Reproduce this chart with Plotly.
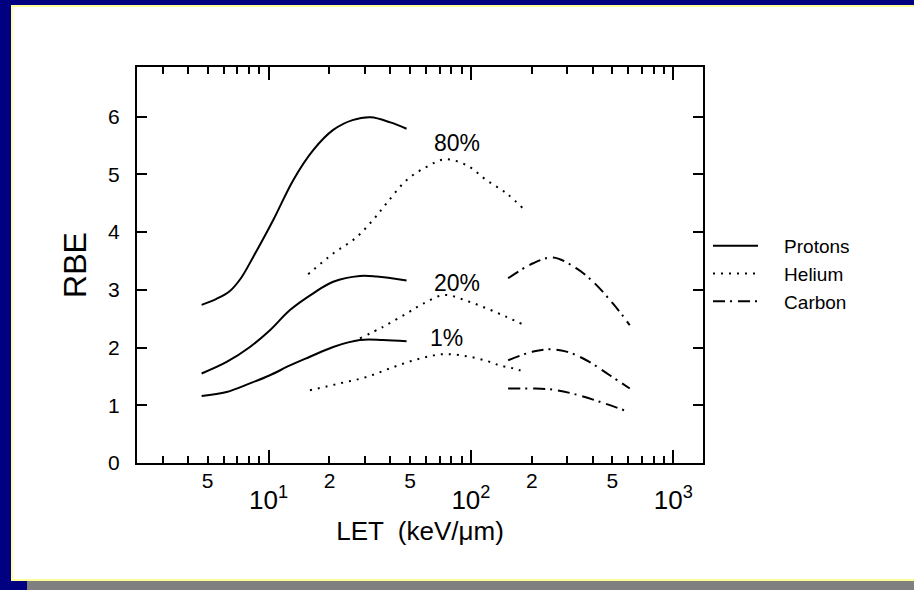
import math
import plotly.graph_objects as go

# ---- data: RBE versus LET for three survival levels per ion ----
proton_80_let = [4.67, 5.5, 6.4, 7.3, 8.4, 10.55, 13.24, 16.62, 20.87, 26.0, 32.0, 40.0, 48.08]
proton_80_rbe = [2.74, 2.84, 2.97, 3.20, 3.57, 4.21, 4.90, 5.42, 5.77, 5.94, 5.99, 5.90, 5.79]
proton_20_let = [4.67, 6.21, 8.09, 10.16, 12.76, 16.62, 20.87, 28.28, 34.18, 48.08]
proton_20_rbe = [1.55, 1.75, 2.01, 2.30, 2.65, 2.94, 3.14, 3.24, 3.23, 3.16]
proton_1_let = [4.67, 6.21, 8.09, 10.16, 12.76, 16.01, 20.87, 28.28, 36.85, 48.08]
proton_1_rbe = [1.16, 1.23, 1.38, 1.52, 1.69, 1.84, 2.01, 2.13, 2.13, 2.11]

helium_80_let = [15.70, 20.87, 27.0, 33.0, 38.30, 48.08, 60.37, 74.3, 95.1, 119.4, 149.9, 181.0]
helium_80_rbe = [3.27, 3.63, 3.90, 4.22, 4.50, 4.90, 5.13, 5.26, 5.16, 4.90, 4.67, 4.41]
helium_20_let = [28.28, 36.85, 48.08, 58.0, 74.0, 95.1, 119.4, 149.9, 181.0]
helium_20_rbe = [2.16, 2.36, 2.59, 2.76, 2.91, 2.81, 2.68, 2.53, 2.40]
helium_1_let = [16.01, 22.52, 30.51, 41.29, 55.95, 72.91, 95.1, 119.4, 138.9, 161.6, 184.6]
helium_1_rbe = [1.26, 1.38, 1.49, 1.66, 1.81, 1.885, 1.85, 1.77, 1.69, 1.64, 1.58]

carbon_80_let = [152.7, 202.9, 254.6, 332.3, 401.3, 503.7, 609.1]
carbon_80_rbe = [3.20, 3.46, 3.56, 3.37, 3.14, 2.76, 2.39]
carbon_20_let = [152.7, 202.9, 245.2, 296.6, 372.2, 485.2, 609.1]
carbon_20_rbe = [1.78, 1.93, 1.97, 1.93, 1.78, 1.52, 1.29]
carbon_1_let = [152.7, 202.9, 254.6, 319.7, 433.0, 575.4]
carbon_1_rbe = [1.29, 1.29, 1.27, 1.20, 1.06, 0.91]

level_labels = ["80%", "20%", "1%"]
level_label_let = [85.7, 84.9, 75.8]
level_label_rbe = [5.54, 3.11, 2.16]

sub_tick_vals = [5, 20, 50, 200, 500]
sub_tick_text = ["5", "2", "5", "2", "5"]
decade_tick_vals = [10, 100, 1000]
decade_tick_text = ["10<sup>1</sup>", "10<sup>2</sup>", "10<sup>3</sup>"]
rbe_ticks = [0, 1, 2, 3, 4, 5, 6]

# ---- page geometry (pixels) ----
W, H = 914, 590
L, R, T, B = 137, 703, 67, 463
FONT = "Liberation Sans, Arial, sans-serif"
NAVY = "#000080"
PAD = "\u00a0" * 4   # gap between legend sample and legend text


def px(x):
    return (x - L) / (R - L)


def py(y):
    return (B - y) / (B - T)


styles = {
    "Protons": dict(color="black", width=2, dash="solid"),
    "Helium": dict(color="black", width=2, dash="2px,6px"),
    "Carbon": dict(color="black", width=2, dash="12px,5px,2px,6px"),
}

series = [
    ("Protons", proton_80_let, proton_80_rbe, True),
    ("Protons", proton_20_let, proton_20_rbe, False),
    ("Protons", proton_1_let, proton_1_rbe, False),
    ("Helium", helium_80_let, helium_80_rbe, True),
    ("Helium", helium_20_let, helium_20_rbe, False),
    ("Helium", helium_1_let, helium_1_rbe, False),
    ("Carbon", carbon_80_let, carbon_80_rbe, True),
    ("Carbon", carbon_20_let, carbon_20_rbe, False),
    ("Carbon", carbon_1_let, carbon_1_rbe, False),
]

fig = go.Figure()
for name, xs, ys, show in series:
    fig.add_trace(go.Scatter(
        x=xs, y=ys, mode="lines", name=PAD + name, legendgroup=name,
        showlegend=show, line=dict(shape="spline", smoothing=1.0, **styles[name]),
        hoverinfo="skip",
    ))

# survival-level labels next to the peaks
for txt, lx, ly in zip(level_labels, level_label_let, level_label_rbe):
    fig.add_annotation(x=math.log10(lx), y=ly, xref="x", yref="y", text=txt,
                       showarrow=False, font=dict(family=FONT, size=23, color="black"))

xrange = [0.350, 3.1467]

fig.update_layout(
    width=W, height=H,
    margin=dict(l=L, r=W - R, t=T, b=H - B, pad=0),
    paper_bgcolor=NAVY,
    plot_bgcolor="white",
    font=dict(family=FONT, color="black"),
    xaxis=dict(
        type="log", range=xrange, showgrid=False, zeroline=False,
        showline=True, linecolor="black", linewidth=2, mirror="ticks",
        ticks="inside", ticklen=13, tickwidth=2, tickcolor="black",
        tickvals=decade_tick_vals, ticktext=decade_tick_text,
        tickfont=dict(family=FONT, size=26, color="black"),
        ticklabelstandoff=13,
        minor=dict(ticks="inside", ticklen=7, tickwidth=2, tickcolor="black",
                   dtick="D1", showgrid=False),
        title=dict(text="LET  (keV/μm)", font=dict(family=FONT, size=26, color="black"),
                   standoff=8),
    ),
    xaxis2=dict(
        type="log", range=xrange, overlaying="x", anchor="y", side="bottom",
        showgrid=False, zeroline=False, showline=False,
        ticks="", tickvals=sub_tick_vals, ticktext=sub_tick_text,
        tickfont=dict(family=FONT, size=21, color="black"),
        ticklabelstandoff=3,
    ),
    yaxis=dict(
        range=[0, 6.86], showgrid=False, zeroline=False,
        showline=True, linecolor="black", linewidth=2, mirror="ticks",
        ticks="inside", ticklen=10, tickwidth=2, tickcolor="black",
        tickvals=rbe_ticks, tickfont=dict(family=FONT, size=21, color="black"),
        ticklabelstandoff=11,
        title=dict(text="RBE", font=dict(family=FONT, size=32, color="black"), standoff=12),
    ),
    legend=dict(
        x=px(708), y=py(227), xanchor="left", yanchor="top",
        bgcolor="rgba(0,0,0,0)", borderwidth=0, itemwidth=45,
        font=dict(family=FONT, size=19, color="black"),
        tracegroupgap=0,
    ),
    showlegend=True,
)

# invisible trace so the 2/5 label axis is drawn
fig.add_trace(go.Scatter(x=[sub_tick_vals[0]], y=[0], xaxis="x2", yaxis="y",
                         mode="markers", marker=dict(opacity=0), showlegend=False,
                         hoverinfo="skip"))

# page frame: white sheet with a pale edge and a grey strip at the foot
fig.add_shape(type="rect", xref="paper", yref="paper", layer="below",
              x0=px(12), x1=px(W + 10), y0=py(580), y1=py(6),
              fillcolor="white", line=dict(color="#ffff99", width=2))
fig.add_shape(type="rect", xref="paper", yref="paper", layer="below",
              x0=px(27), x1=px(W + 10), y0=py(H + 10), y1=py(581),
              fillcolor="#808080", line=dict(width=0))

fig.write_html("out.html")
